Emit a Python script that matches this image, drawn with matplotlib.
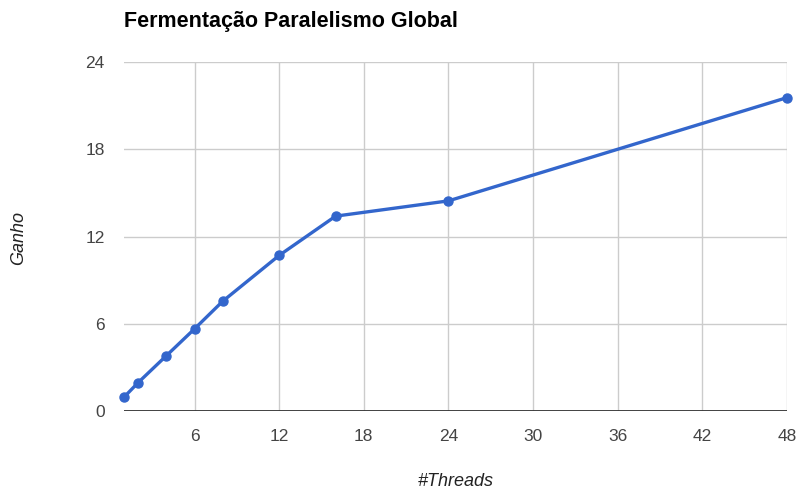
import matplotlib
matplotlib.use("Agg")
import matplotlib.pyplot as plt

plt.rcParams['font.family'] = ['Liberation Sans', 'DejaVu Sans']

threads = [1, 2, 4, 6, 8, 12, 16, 24, 48]
ganho = [0.95, 1.95, 3.8, 5.65, 7.55, 10.7, 13.4, 14.45, 21.55]
x_ticks = [6, 12, 18, 24, 30, 36, 42, 48]
y_ticks = [0, 6, 12, 18, 24]

W, H = 799, 490
fig = plt.figure(figsize=(W / 100, H / 100), dpi=100)
ax = fig.add_axes([124 / W, 79 / H, 663 / W, 349 / H])

ax.set_xlim(1, 48)
ax.set_ylim(0, 24)
ax.set_xticks(x_ticks)
ax.set_yticks(y_ticks)

for v in x_ticks:
    ax.axvline(v, color='#cccccc', lw=1, zorder=1)
for v in y_ticks[1:]:
    ax.axhline(v, color='#cccccc', lw=1, zorder=1)
ax.axhline(0, color='#333333', lw=1.3, zorder=2)

ax.plot(threads, ganho, color='#3366cc', lw=2.4, marker='o', ms=6.5,
        zorder=3, clip_on=False)

for s in ax.spines.values():
    s.set_visible(False)
ax.tick_params(length=0, labelsize=12.5, labelcolor='#444444')
ax.tick_params(axis='y', pad=14)
ax.tick_params(axis='x', pad=13)

fig.text(456 / W, 1 - 481 / H, '#Threads', fontsize=13, style='italic',
         color='#222222', ha='center', va='center')
fig.text(19 / W, 1 - 238 / H, 'Ganho', fontsize=13, style='italic',
         color='#222222', ha='center', va='center', rotation=90)

fig.text(124 / W, 1 - 22 / H, 'Fermentação Paralelismo Global', fontsize=15.5,
         fontweight='bold', color='#000000', va='center', ha='left')

fig.savefig('out.png', dpi=100)
